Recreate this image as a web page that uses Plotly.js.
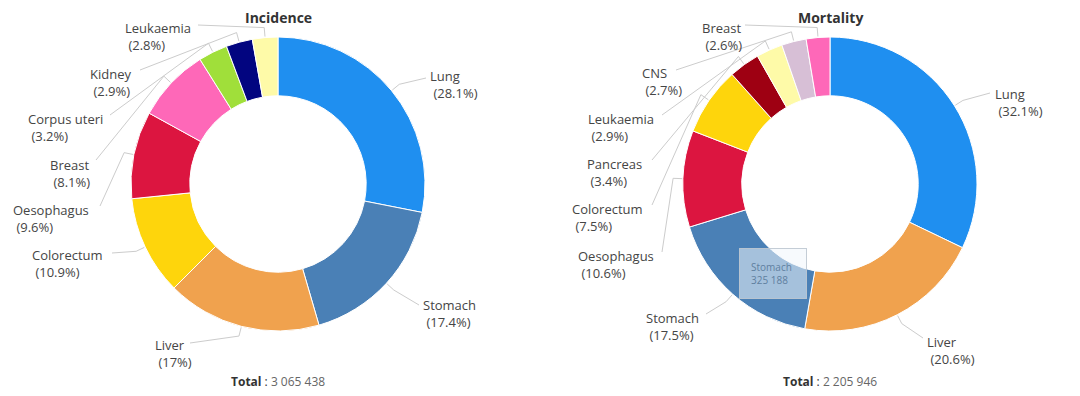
<!DOCTYPE html>
<html>
<head>
<meta charset="utf-8">
<script src="https://cdn.plot.ly/plotly-3.0.1.min.js"></script>
<style>html,body{margin:0;padding:0;background:#fff;}#chart{width:1080px;height:396px;}</style>
</head>
<body>
<div id="chart"></div>
<script>
// ---------- DATA ----------
const incCategories = ["Lung","Stomach","Liver","Colorectum","Oesophagus","Breast","Corpus uteri","Kidney","Leukaemia"];
const incPercent    = [28.1, 17.4, 17, 10.9, 9.6, 8.1, 3.2, 2.9, 2.8];
const incTotal      = "3 065 438";

const mortCategories = ["Lung","Liver","Stomach","Oesophagus","Colorectum","Pancreas","Leukaemia","CNS","Breast"];
const mortPercent    = [32.1, 20.6, 17.5, 10.6, 7.5, 3.4, 2.9, 2.7, 2.6];
const mortTotal      = "2 205 946";

const tooltipLabel = "Stomach";
const tooltipValue = "325 188";

// ---------- STYLE / LAYOUT ----------
const W = 1080, H = 396;
const colorMap = {
  "Lung":"#1f8ff0","Stomach":"#4a80b6","Liver":"#f0a24e","Colorectum":"#fed50c",
  "Oesophagus":"#dc1540","Breast":"#fe68b8","Corpus uteri":"#a0df3a","Kidney":"#020580",
  "Leukaemia":"#fefaa8","Pancreas":"#9e0012","CNS":"#d7bfd6"
};
const R = 147, HOLE = 0.6;
const incCenter = [278, 184], mortCenter = [830, 184];

// label placement (text left x, first-line y, connector anchor x/y)
const incLabelPos = [
  [430,75,426,78],[423,304,419,305],[155,344,190,343],[32,254,112,253],[13,209,100,206],
  [50,164,96,160],[28,118,110,115],[90,73,140,70],[125,27,198,25]
];
const mortLabelPos = [
  [995,93,990,93],[927,341,923,338],[646,317,706,314],[578,255,662,252],[572,208,652,205],
  [587,163,652,160],[588,118,662,115],[642,72,676,70],[702,27,745,25]
];

const px = x => x / W;
const py = y => 1 - y / H;

function pieTrace(cats, vals, center) {
  return {
    type: "pie", labels: cats, values: vals, sort: false, direction: "clockwise", rotation: 0,
    hole: HOLE, textinfo: "none", hoverinfo: "label+value",
    marker: { colors: cats.map(c => colorMap[c]), line: { color: "#ffffff", width: 1 } },
    domain: { x: [px(center[0] - R), px(center[0] + R)], y: [py(center[1] + R), py(center[1] - R)] },
    showlegend: false
  };
}

const annotations = [];
const shapes = [];

function addLabels(cats, vals, center, pos) {
  const total = vals.reduce((a, b) => a + b, 0);
  let cum = 0;
  cats.forEach((c, i) => {
    const mid = (cum + vals[i] / 2) / total;
    cum += vals[i];
    const th = 2 * Math.PI * mid;
    const C = [center[0] + (R + 1) * Math.sin(th), center[1] - (R + 1) * Math.cos(th)];
    const B = [center[0] + (R + 10) * Math.sin(th), center[1] - (R + 10) * Math.cos(th)];
    const p = pos[i];
    const A = [p[2], p[3]];
    shapes.push({
      type: "path", xref: "paper", yref: "paper",
      path: `M ${px(C[0])} ${py(C[1])} L ${px(B[0])} ${py(B[1])} L ${px(A[0])} ${py(A[1])}`,
      line: { color: "#cccccc", width: 1 }
    });
    annotations.push({
      xref: "paper", yref: "paper", x: px(p[0] - 2), y: py(p[1] - 10), xanchor: "left", yanchor: "top",
      text: `${c}<br>\u00a0(${vals[i]}%)`, align: "left", showarrow: false,
      font: { family: "Open Sans, sans-serif", size: 13, color: "#454545" }
    });
  });
}
addLabels(incCategories, incPercent, incCenter, incLabelPos);
addLabels(mortCategories, mortPercent, mortCenter, mortLabelPos);

// titles
[["Incidence", incCenter], ["Mortality", mortCenter]].forEach(([t, c]) => {
  annotations.push({ xref: "paper", yref: "paper", x: px(c[0]), y: py(17), xanchor: "center", yanchor: "middle",
    text: `<b>${t}</b>`, showarrow: false, font: { family: "Open Sans, sans-serif", size: 14, color: "#333" } });
});
// totals
[[incTotal, incCenter], [mortTotal, mortCenter]].forEach(([t, c]) => {
  annotations.push({ xref: "paper", yref: "paper", x: px(c[0]), y: py(381), xanchor: "center", yanchor: "middle",
    text: `<b>Total</b> : <span style="color:#666">${t}</span>`, showarrow: false,
    font: { family: "Open Sans, sans-serif", size: 12, color: "#333" } });
});
// tooltip overlay
annotations.push({ xref: "paper", yref: "paper", x: px(739), y: py(248), xanchor: "left", yanchor: "top",
  text: `${tooltipLabel}<br>${tooltipValue}`, align: "left", showarrow: false,
  bgcolor: "rgba(240,246,252,0.55)", bordercolor: "rgba(190,200,210,0.9)", borderwidth: 1, borderpad: 11,
  width: 44, font: { family: "Open Sans, sans-serif", size: 10, color: "#5f7f9f" } });

const layout = {
  width: W, height: H, margin: { l: 0, r: 0, t: 0, b: 0 },
  paper_bgcolor: "#ffffff", plot_bgcolor: "#ffffff",
  annotations, shapes, showlegend: false
};

Plotly.newPlot("chart", [pieTrace(incCategories, incPercent, incCenter), pieTrace(mortCategories, mortPercent, mortCenter)], layout, { displayModeBar: false, staticPlot: true });
</script>
</body>
</html>
